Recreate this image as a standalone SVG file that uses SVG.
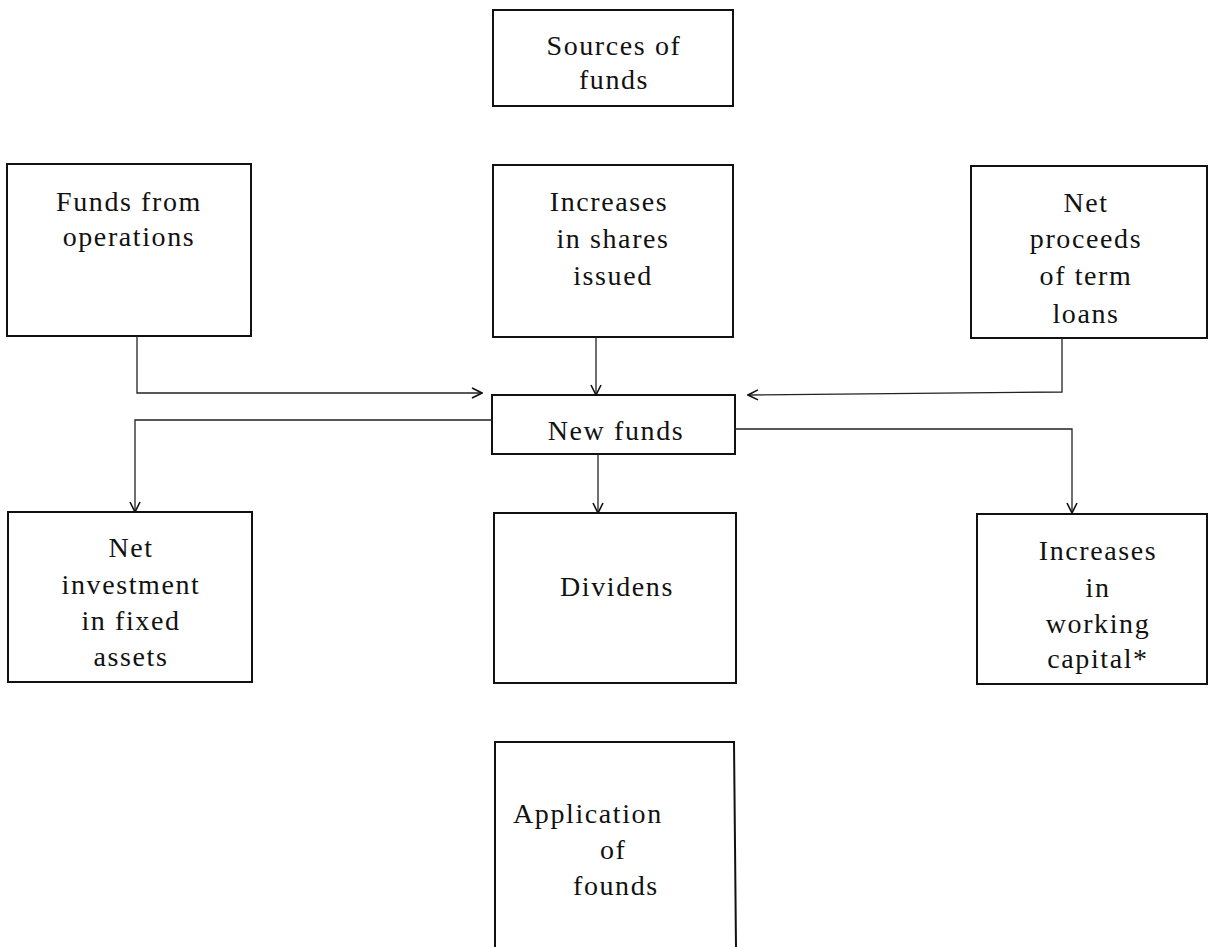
<svg xmlns="http://www.w3.org/2000/svg" width="1208" height="947" viewBox="0 0 1208 947">
<defs>
<style>
.box{fill:none;stroke:#111;stroke-width:2}
.t{font-family:"Liberation Serif","DejaVu Serif",serif;font-size:28px;letter-spacing:1.6px;fill:#111;text-anchor:middle}
.tl{font-family:"Liberation Serif","DejaVu Serif",serif;font-size:28px;letter-spacing:1.6px;fill:#111}
.c{fill:none;stroke:#222;stroke-width:1.3}
</style>
<marker id="ah" viewBox="0 0 12 12" refX="11" refY="6" markerWidth="12" markerHeight="12" markerUnits="userSpaceOnUse" orient="auto">
<polyline points="1,1 11,6 1,11" fill="none" stroke="#111" stroke-width="1.6"/>
</marker>
</defs>
<rect width="1208" height="947" fill="#fff"/>
<g id="sources">
<rect class="box" x="493" y="10" width="240" height="96"/>
<text class="t" x="614" y="55">Sources of</text>
<text class="t" x="614" y="89">funds</text>
</g>
<g id="funds-ops">
<rect class="box" x="7" y="164" width="244" height="172"/>
<text class="t" x="129" y="211">Funds from</text>
<text class="t" x="129" y="246">operations</text>
</g>
<g id="shares">
<rect class="box" x="493" y="165" width="240" height="172"/>
<text class="t" x="609" y="211">Increases</text>
<text class="t" x="613" y="248">in shares</text>
<text class="t" x="613" y="285">issued</text>
</g>
<g id="loans">
<rect class="box" x="971" y="166" width="236" height="172"/>
<text class="t" x="1086" y="212">Net</text>
<text class="t" x="1086" y="248">proceeds</text>
<text class="t" x="1086" y="285">of term</text>
<text class="t" x="1086" y="323">loans</text>
</g>
<g id="new-funds">
<rect class="box" x="492" y="395" width="243" height="59"/>
<text class="t" x="616" y="440">New funds</text>
</g>
<g id="fixed-assets">
<rect class="box" x="8" y="512" width="244" height="170"/>
<text class="t" x="131" y="557">Net</text>
<text class="t" x="131" y="594">investment</text>
<text class="t" x="131" y="630">in fixed</text>
<text class="t" x="131" y="666">assets</text>
</g>
<g id="dividens">
<rect class="box" x="494" y="513" width="242" height="170"/>
<text class="t" x="617" y="596">Dividens</text>
</g>
<g id="working-capital">
<rect class="box" x="977" y="514" width="230" height="170"/>
<text class="t" x="1098" y="560">Increases</text>
<text class="t" x="1098" y="597">in</text>
<text class="t" x="1098" y="633">working</text>
<text class="t" x="1098" y="668">capital*</text>
</g>
<g id="application">
<path class="box" d="M495,947 L495,742 L734,742 L736,947"/>
<text class="tl" x="513" y="823">Application</text>
<text class="tl" x="600" y="859">of</text>
<text class="tl" x="573" y="895">founds</text>
</g>
<g id="connectors">
<path class="c" d="M137,336 L137,393 L482,393" marker-end="url(#ah)"/>
<path class="c" d="M596,337 L596,395" marker-end="url(#ah)" stroke-width="1.6"/>
<path class="c" d="M1062,338 L1062,392 L748,395" marker-end="url(#ah)"/>
<path class="c" d="M492,420 L135,420 L135,512" marker-end="url(#ah)"/>
<path class="c" d="M598,454 L598,513" marker-end="url(#ah)"/>
<path class="c" d="M735,429 L1072,429 L1072,513" marker-end="url(#ah)"/>
</g>
</svg>
